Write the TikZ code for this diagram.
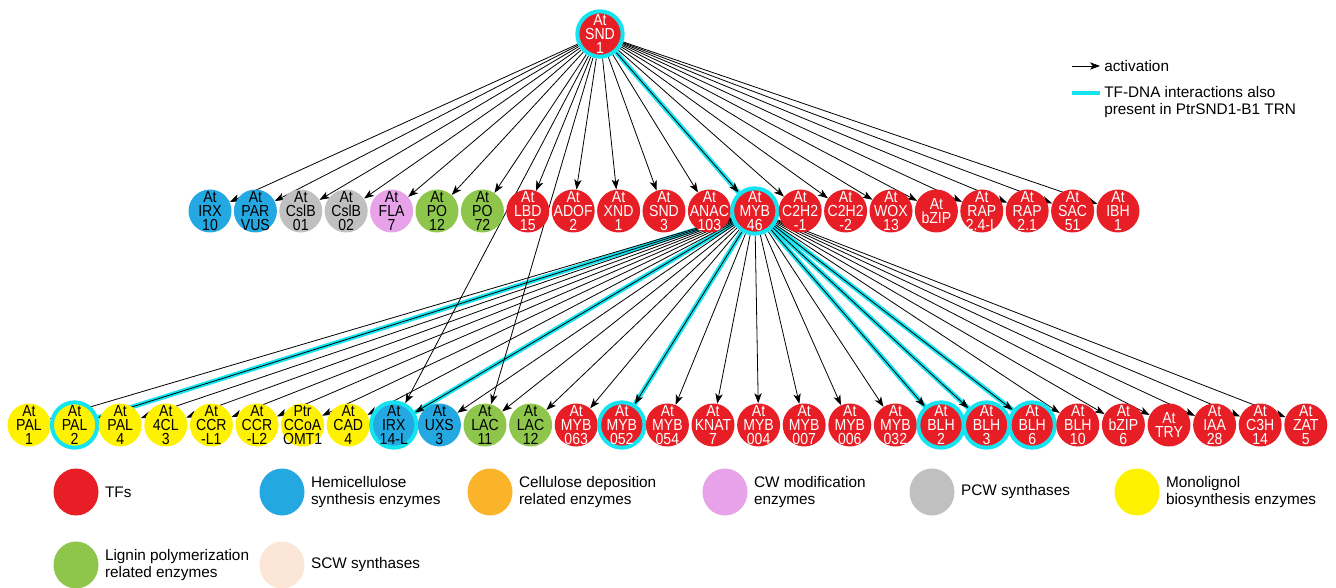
\documentclass[tikz,border=0pt]{standalone}
\usepackage{fontspec}
\setmainfont{Liberation Sans}
\newfontfamily\genefont[FakeStretch=0.88]{Liberation Sans}
\usetikzlibrary{arrows.meta}
\usetikzlibrary{positioning}
\usetikzlibrary{shapes.geometric}

\definecolor{tfred}{RGB}{232,30,38}
\definecolor{hemiblue}{RGB}{35,168,226}
\definecolor{celorange}{RGB}{251,180,42}
\definecolor{cwpink}{RGB}{232,162,234}
\definecolor{pcwgray}{RGB}{192,192,192}
\definecolor{monoyellow}{RGB}{255,242,0}
\definecolor{ligngreen}{RGB}{141,198,75}
\definecolor{scwpeach}{RGB}{251,230,216}
\definecolor{tfcyan}{RGB}{20,228,240}

\pgfdeclarelayer{background}
\pgfsetlayers{background,main}

\tikzset{
  gene/.style={circle, fill=#1, minimum size=32.25pt, inner sep=0pt},
  ring/.style={draw=tfcyan, line width=3pt, minimum size=34pt},
  wtxt/.style={text=white, align=center, inner sep=0pt, font=\genefont\fontsize{12pt}{10.5pt}\selectfont},
  btxt/.style={wtxt, text=black},
  act/.style={-{Stealth[length=7.5pt,width=5.5pt,inset=2pt]}, line width=0.6pt, black},
  hlline/.style={tfcyan, line width=3.5pt},
  legdot/.style={ellipse, fill=#1, minimum width=33.75pt, minimum height=35.25pt, inner sep=0pt},
  legtxt/.style={align=left, inner sep=0pt, font=\fontsize{11.5pt}{12.75pt}\selectfont},
}

\begin{document}
\begin{tikzpicture}[x=0.75pt,y=0.75pt,yscale=-1,xscale=1]
\useasboundingbox (0,0) rectangle (1336,588);

%Top regulator
\node[gene=tfred, ring, label={[wtxt]center:{At\\SND\\1}}] (SND1) at (600,34) {};

%Middle row: direct targets of SND1
\node[gene=hemiblue, label={[btxt]center:{At\\IRX\\10}}] (IRX10) at (210,211) {};
\node[gene=hemiblue, label={[btxt]center:{At\\PAR\\VUS}}] (PARVUS) at (255.4,211) {};
\node[gene=pcwgray, label={[btxt]center:{At\\CslB\\01}}] (CslB01) at (300.8,211) {};
\node[gene=pcwgray, label={[btxt]center:{At\\CslB\\02}}] (CslB02) at (346.2,211) {};
\node[gene=cwpink, label={[btxt]center:{At\\FLA\\7}}] (FLA7) at (391.6,211) {};
\node[gene=ligngreen, label={[btxt]center:{At\\PO\\12}}] (PO12) at (437,211) {};
\node[gene=ligngreen, label={[btxt]center:{At\\PO\\72}}] (PO72) at (482.4,211) {};
\node[gene=tfred, label={[wtxt]center:{At\\LBD\\15}}] (LBD15) at (527.8,211) {};
\node[gene=tfred, label={[wtxt]center:{At\\ADOF\\2}}] (ADOF2) at (573.2,211) {};
\node[gene=tfred, label={[wtxt]center:{At\\XND\\1}}] (XND1) at (618.6,211) {};
\node[gene=tfred, label={[wtxt]center:{At\\SND\\3}}] (SND3) at (664,211) {};
\node[gene=tfred, label={[wtxt]center:{At\\ANAC\\103}}] (ANAC103) at (709.4,211) {};
\node[gene=tfred, ring, label={[wtxt]center:{At\\MYB\\46}}] (MYB46) at (754.8,211) {};
\node[gene=tfred, label={[wtxt]center:{At\\C2H2\\-1}}] (C2H2a) at (800.2,211) {};
\node[gene=tfred, label={[wtxt]center:{At\\C2H2\\-2}}] (C2H2b) at (845.6,211) {};
\node[gene=tfred, label={[wtxt]center:{At\\WOX\\13}}] (WOX13) at (891,211) {};
\node[gene=tfred, label={[wtxt]center:{At\\bZIP}}] (bZIP) at (936.4,211) {};
\node[gene=tfred, label={[wtxt]center:{At\\RAP\\2.4-L}}] (RAPa) at (981.8,211) {};
\node[gene=tfred, label={[wtxt]center:{At\\RAP\\2.1}}] (RAPb) at (1027.2,211) {};
\node[gene=tfred, label={[wtxt]center:{At\\SAC\\51}}] (SAC51) at (1072.6,211) {};
\node[gene=tfred, label={[wtxt]center:{At\\IBH\\1}}] (IBH1) at (1118,211) {};

%Bottom row: targets of MYB46
\node[gene=monoyellow, label={[btxt]center:{At\\PAL\\1}}] (PAL1) at (29,425) {};
\node[gene=monoyellow, ring, label={[btxt]center:{At\\PAL\\2}}] (PAL2) at (74.6,425) {};
\node[gene=monoyellow, label={[btxt]center:{At\\PAL\\4}}] (PAL4) at (120.2,425) {};
\node[gene=monoyellow, label={[btxt]center:{At\\4CL\\3}}] (fourCL3) at (165.8,425) {};
\node[gene=monoyellow, label={[btxt]center:{At\\CCR\\-L1}}] (CCRL1) at (211.4,425) {};
\node[gene=monoyellow, label={[btxt]center:{At\\CCR\\-L2}}] (CCRL2) at (257,425) {};
\node[gene=monoyellow, label={[btxt]center:{Ptr\\CCoA\\OMT1}}] (CCoAOMT1) at (302.6,425) {};
\node[gene=monoyellow, label={[btxt]center:{At\\CAD\\4}}] (CAD4) at (348.2,425) {};
\node[gene=hemiblue, ring, label={[btxt]center:{At\\IRX\\14-L}}] (IRX14L) at (393.8,425) {};
\node[gene=hemiblue, label={[btxt]center:{At\\UXS\\3}}] (UXS3) at (439.4,425) {};
\node[gene=ligngreen, label={[btxt]center:{At\\LAC\\11}}] (LAC11) at (485,425) {};
\node[gene=ligngreen, label={[btxt]center:{At\\LAC\\12}}] (LAC12) at (530.6,425) {};
\node[gene=tfred, label={[wtxt]center:{At\\MYB\\063}}] (MYB063) at (576.2,425) {};
\node[gene=tfred, ring, label={[wtxt]center:{At\\MYB\\052}}] (MYB052) at (621.8,425) {};
\node[gene=tfred, label={[wtxt]center:{At\\MYB\\054}}] (MYB054) at (667.4,425) {};
\node[gene=tfred, label={[wtxt]center:{At\\KNAT\\7}}] (KNAT7) at (713,425) {};
\node[gene=tfred, label={[wtxt]center:{At\\MYB\\004}}] (MYB004) at (758.6,425) {};
\node[gene=tfred, label={[wtxt]center:{At\\MYB\\007}}] (MYB007) at (804.2,425) {};
\node[gene=tfred, label={[wtxt]center:{At\\MYB\\006}}] (MYB006) at (849.8,425) {};
\node[gene=tfred, label={[wtxt]center:{At\\MYB\\032}}] (MYB032) at (895.4,425) {};
\node[gene=tfred, ring, label={[wtxt]center:{At\\BLH\\2}}] (BLH2) at (941,425) {};
\node[gene=tfred, ring, label={[wtxt]center:{At\\BLH\\3}}] (BLH3) at (986.6,425) {};
\node[gene=tfred, ring, label={[wtxt]center:{At\\BLH\\6}}] (BLH6) at (1032.2,425) {};
\node[gene=tfred, label={[wtxt]center:{At\\BLH\\10}}] (BLH10) at (1077.8,425) {};
\node[gene=tfred, label={[wtxt]center:{At\\bZIP\\6}}] (bZIP6) at (1123.4,425) {};
\node[gene=tfred, label={[wtxt]center:{At\\TRY}}] (TRY) at (1169,425) {};
\node[gene=tfred, label={[wtxt]center:{At\\IAA\\28}}] (IAA28) at (1214.6,425) {};
\node[gene=tfred, label={[wtxt]center:{At\\C3H\\14}}] (C3H14) at (1260.2,425) {};
\node[gene=tfred, label={[wtxt]center:{At\\ZAT\\5}}] (ZAT5) at (1305.8,425) {};

\begin{pgfonlayer}{background}
%Highlighted interactions
\draw[hlline] (SND1) -- (MYB46);
\draw[hlline] (MYB46) -- (PAL2);
\draw[hlline] (MYB46) -- (IRX14L);
\draw[hlline] (MYB46) -- (MYB052);
\draw[hlline] (MYB46) -- (BLH2);
\draw[hlline] (MYB46) -- (BLH3);
\draw[hlline] (MYB46) -- (BLH6);

%Straight Lines: SND1 activation
\draw[act] (SND1) -- (IRX10);
\draw[act] (SND1) -- (PARVUS);
\draw[act] (SND1) -- (CslB01);
\draw[act] (SND1) -- (CslB02);
\draw[act] (SND1) -- (FLA7);
\draw[act] (SND1) -- (PO12);
\draw[act] (SND1) -- (PO72);
\draw[act] (SND1) -- (LBD15);
\draw[act] (SND1) -- (ADOF2);
\draw[act] (SND1) -- (XND1);
\draw[act] (SND1) -- (SND3);
\draw[act] (SND1) -- (ANAC103);
\draw[act] (SND1) -- (MYB46);
\draw[act] (SND1) -- (C2H2a);
\draw[act] (SND1) -- (C2H2b);
\draw[act] (SND1) -- (WOX13);
\draw[act] (SND1) -- (bZIP);
\draw[act] (SND1) -- (RAPa);
\draw[act] (SND1) -- (RAPb);
\draw[act] (SND1) -- (SAC51);
\draw[act] (SND1) -- (IBH1);
\draw[act] (SND1) -- (IRX14L);
\draw[act] (SND1) -- (LAC11);

%Straight Lines: MYB46 activation
\draw[act] (MYB46) -- (PAL1);
\draw[act] (MYB46) -- (PAL2);
\draw[act] (MYB46) -- (PAL4);
\draw[act] (MYB46) -- (fourCL3);
\draw[act] (MYB46) -- (CCRL1);
\draw[act] (MYB46) -- (CCRL2);
\draw[act] (MYB46) -- (CCoAOMT1);
\draw[act] (MYB46) -- (CAD4);
\draw[act] (MYB46) -- (IRX14L);
\draw[act] (MYB46) -- (UXS3);
\draw[act] (MYB46) -- (LAC11);
\draw[act] (MYB46) -- (LAC12);
\draw[act] (MYB46) -- (MYB063);
\draw[act] (MYB46) -- (MYB052);
\draw[act] (MYB46) -- (MYB054);
\draw[act] (MYB46) -- (KNAT7);
\draw[act] (MYB46) -- (MYB004);
\draw[act] (MYB46) -- (MYB007);
\draw[act] (MYB46) -- (MYB006);
\draw[act] (MYB46) -- (MYB032);
\draw[act] (MYB46) -- (BLH2);
\draw[act] (MYB46) -- (BLH3);
\draw[act] (MYB46) -- (BLH6);
\draw[act] (MYB46) -- (BLH10);
\draw[act] (MYB46) -- (bZIP6);
\draw[act] (MYB46) -- (TRY);
\draw[act] (MYB46) -- (IAA28);
\draw[act] (MYB46) -- (C3H14);
\draw[act] (MYB46) -- (ZAT5);
\end{pgfonlayer}

% Legend: edges
\node[legtxt, anchor=west] (actlab) at (1104,66) {activation};
\coordinate (actstart) at (1072,66);
\draw[act] (actstart) -- ([xshift=-3pt]actlab.west);
\node[legtxt, anchor=north west] (tfdna) at (1104,86) {TF-DNA interactions also\\present in PtrSND1-B1 TRN};
\coordinate (tfstart) at (1072,93);
\draw[hlline] (tfstart) -- ([xshift=-3pt]tfdna.west |- tfstart);

% Legend: node categories
\node[legdot=tfred] (lgTF) at (76,492) {};
\node[legtxt, right=4.5pt of lgTF] (lgTFtxt) {TFs};
\node[legdot=hemiblue] (lgHemi) at (282,492) {};
\node[legtxt, right=4.5pt of lgHemi] (lgHemitxt) {Hemicellulose\\synthesis enzymes};
\node[legdot=celorange] (lgCel) at (490,492) {};
\node[legtxt, right=4.5pt of lgCel] (lgCeltxt) {Cellulose deposition\\related enzymes};
\node[legdot=cwpink] (lgCW) at (725,492) {};
\node[legtxt, right=4.5pt of lgCW] (lgCWtxt) {CW modification\\enzymes};
\node[legdot=pcwgray] (lgPCW) at (932,492) {};
\node[legtxt, right=4.5pt of lgPCW] (lgPCWtxt) {PCW synthases};
\node[legdot=monoyellow] (lgMono) at (1137,492) {};
\node[legtxt, right=4.5pt of lgMono] (lgMonotxt) {Monolignol\\biosynthesis enzymes};
\node[legdot=ligngreen] (lgLig) at (76,565) {};
\node[legtxt, right=4.5pt of lgLig] (lgLigtxt) {Lignin polymerization\\related enzymes};
\node[legdot=scwpeach] (lgSCW) at (282,565) {};
\node[legtxt, right=4.5pt of lgSCW] (lgSCWtxt) {SCW synthases};

\end{tikzpicture}
\end{document}
